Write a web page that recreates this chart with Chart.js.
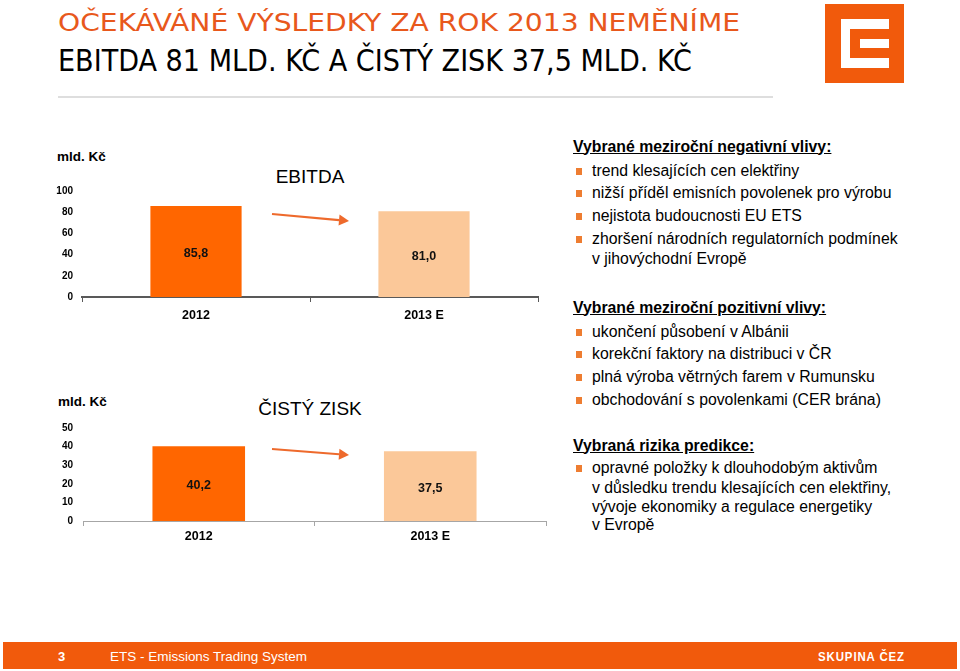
<!DOCTYPE html>
<html><head><meta charset="utf-8">
<script src="https://cdn.jsdelivr.net/npm/chart.js@4"></script>
<style>
html,body{margin:0;padding:0;background:#fff;}
body{width:960px;height:671px;position:relative;overflow:hidden;font-family:Arial,"Liberation Sans",sans-serif;color:#000;}
.a{position:absolute;line-height:1;white-space:nowrap;}
.t1{font-family:"DejaVu Sans Condensed","Liberation Sans Narrow",Arial,sans-serif;font-stretch:condensed;font-size:25px;color:#E8581C;transform-origin:0 0;}
.t2{font-family:"DejaVu Sans Condensed","Liberation Sans Narrow",Arial,sans-serif;font-stretch:condensed;font-size:30px;color:#000;transform-origin:0 0;}
.unit{font-weight:bold;font-size:13.5px;}
.ctitle{font-size:19px;transform:translateX(-50%);}
.h{font-weight:bold;font-size:15.8px;text-decoration:underline;left:573px;}
.it{font-size:15.8px;left:592px;}
.b{position:absolute;left:576px;width:6px;height:7px;background:#EE7D31;}
canvas{position:absolute;}
.foot{position:absolute;left:3px;top:642px;width:954px;height:27px;background:#F15A0C;}
.ft{color:#fff;transform-origin:0 0;}
</style></head><body>

<div class="a t1" id="title1" style="left:58px;top:10px;">OČEKÁVÁNÉ VÝSLEDKY ZA ROK 2013 NEMĚNÍME</div>
<div class="a t2" id="title2" style="left:58px;top:46px;">EBITDA 81 MLD. KČ A ČISTÝ ZISK 37,5 MLD. KČ</div>
<div style="position:absolute;left:58px;top:96px;width:715px;height:2px;background:#DEDEDE;"></div>

<div style="position:absolute;left:825px;top:4px;width:79px;height:79px;background:#F15A0C;"></div>
<div style="position:absolute;left:841px;top:19px;width:48px;height:49px;background:#fff;"></div>
<div style="position:absolute;left:850px;top:29px;width:39px;height:29px;background:#F15A0C;"></div>
<div style="position:absolute;left:860px;top:39px;width:29px;height:9px;background:#fff;"></div>

<div class="a unit" style="left:57px;top:150px;">mld. Kč</div>
<div class="a ctitle" style="left:310px;top:167px;">EBITDA</div>
<canvas id="c1" width="560" height="149" style="left:0;top:176px;"></canvas>

<div class="a unit" style="left:58px;top:395px;">mld. Kč</div>
<div class="a ctitle" style="left:310px;top:399px;">ČISTÝ ZISK</div>
<canvas id="c2" width="560" height="140" style="left:0;top:410px;"></canvas>

<div class="a h" style="top:138.5px;">Vybrané meziroční negativní vlivy:</div>
<div class="b" style="top:167.5px;"></div><div class="a it" style="top:162.5px;">trend klesajících cen elektřiny</div>
<div class="b" style="top:189.5px;"></div><div class="a it" style="top:184.5px;">nižší příděl emisních povolenek pro výrobu</div>
<div class="b" style="top:212.5px;"></div><div class="a it" style="top:207.5px;">nejistota budoucnosti EU ETS</div>
<div class="b" style="top:235.5px;"></div><div class="a it" style="top:230.5px;">zhoršení národních regulatorních podmínek</div>
<div class="a it" style="top:250.5px;">v jihovýchodní Evropě</div>

<div class="a h" style="top:299.5px;">Vybrané meziroční pozitivní vlivy:</div>
<div class="b" style="top:328.5px;"></div><div class="a it" style="top:323.5px;">ukončení působení v Albánii</div>
<div class="b" style="top:350.5px;"></div><div class="a it" style="top:345.5px;">korekční faktory na distribuci v ČR</div>
<div class="b" style="top:373.5px;"></div><div class="a it" style="top:368.5px;">plná výroba větrných farem v Rumunsku</div>
<div class="b" style="top:396.5px;"></div><div class="a it" style="top:391.5px;">obchodování s povolenkami (CER brána)</div>

<div class="a h" style="top:437.5px;">Vybraná rizika predikce:</div>
<div class="b" style="top:464.5px;"></div><div class="a it" style="top:459.5px;">opravné položky k dlouhodobým aktivům</div>
<div class="a it" style="top:479.5px;">v důsledku trendu klesajících cen elektřiny,</div>
<div class="a it" style="top:498.5px;">vývoje ekonomiky a regulace energetiky</div>
<div class="a it" style="top:516.5px;">v Evropě</div>

<div class="foot"></div>
<div class="a ft" style="left:58px;top:650px;font-weight:bold;font-size:13px;">3</div>
<div class="a ft" id="ftxt" style="left:110px;top:649.5px;font-size:13.5px;">ETS - Emissions Trading System</div>
<div class="a ft" id="fbrand" style="left:818px;top:650px;font-weight:bold;font-size:13px;letter-spacing:1px;">SKUPINA ČEZ</div>

<script>
// ---- data ----
const categories = ['2012', '2013 E'];
const ebitdaValues = [85.8, 81.0];
const netProfitValues = [40.2, 37.5];
const ebitdaTicks = [0, 20, 40, 60, 80, 100];
const netProfitTicks = [0, 10, 20, 30, 40, 50];
const barColors = ['#FF6600', '#FBC899'];

function fit(id, w) {
  const el = document.getElementById(id);
  const r = el.getBoundingClientRect().width;
  el.style.transform = 'scaleX(' + (w / r) + ')';
}
fit('title1', 682);
fit('title2', 634);
fit('ftxt', 197);
fit('fbrand', 87);

Chart.defaults.font.family = 'Arial, "Liberation Sans", sans-serif';

const labelPlugin = {
  id: 'valueLabels',
  afterDatasetsDraw(chart, args, opts) {
    const ctx = chart.ctx;
    const meta = chart.getDatasetMeta(0);
    ctx.save();
    ctx.font = 'bold 12.5px Arial, "Liberation Sans", sans-serif';
    ctx.fillStyle = '#111';
    ctx.textAlign = 'center';
    ctx.textBaseline = 'middle';
    meta.data.forEach((bar, i) => {
      const v = chart.data.datasets[0].data[i];
      ctx.fillText(v.toFixed(1).replace('.', ','), bar.x, (bar.y + bar.base) / 2 + 2);
    });
    const a = opts.arrow;
    if (a) {
      const ca = chart.chartArea;
      const x1 = ca.left + a[0], y1 = ca.top + a[1], x2 = ca.left + a[2], y2 = ca.top + a[3];
      const ang = Math.atan2(y2 - y1, x2 - x1);
      const hl = 10, hw = 5.5;
      const bx = x2 - hl * Math.cos(ang), by = y2 - hl * Math.sin(ang);
      ctx.strokeStyle = '#EE6A2C';
      ctx.fillStyle = '#EE6A2C';
      ctx.lineWidth = 2.2;
      ctx.beginPath(); ctx.moveTo(x1, y1); ctx.lineTo(bx, by); ctx.stroke();
      ctx.beginPath();
      ctx.moveTo(x2, y2);
      ctx.lineTo(bx + hw * Math.sin(ang), by - hw * Math.cos(ang));
      ctx.lineTo(bx - hw * Math.sin(ang), by + hw * Math.cos(ang));
      ctx.closePath(); ctx.fill();
    }
    ctx.restore();
  }
};

function makeChart(id, values, ticks, o) {
  return new Chart(document.getElementById(id), {
    type: 'bar',
    data: {
      labels: categories,
      datasets: [{ data: values, backgroundColor: barColors, barPercentage: 0.4, categoryPercentage: 1.0, borderWidth: 0 }]
    },
    options: {
      responsive: false, animation: false, devicePixelRatio: 1,
      layout: { padding: { top: o.top, right: o.right, left: 0, bottom: 0 } },
      plugins: { legend: { display: false }, tooltip: { enabled: false }, valueLabels: { arrow: o.arrow } },
      scales: {
        x: {
          offset: true,
          grid: { display: true, offset: true, drawOnChartArea: false, drawTicks: true, tickLength: 5, color: o.axisColor, lineWidth: 1 },
          border: { display: true, color: o.axisColor, width: o.axisWidth },
          ticks: { color: '#000', font: { weight: 'bold', size: 12.5 }, padding: o.xpad, maxRotation: 0 },
          afterFit: s => { s.height = o.xh; }
        },
        y: {
          min: 0, max: ticks[ticks.length - 1],
          grid: { display: false, drawTicks: false }, border: { display: false },
          afterBuildTicks: s => { s.ticks = ticks.map(v => ({ value: v })); },
          ticks: { color: '#000', font: { weight: 'bold', size: 10 }, padding: o.ypad },
          afterFit: s => { s.width = o.yw; }
        }
      }
    },
    plugins: [labelPlugin]
  });
}

makeChart('c1', ebitdaValues, ebitdaTicks, { top: 14, right: 22, xh: 28, yw: 82, xpad: 6, ypad: 9, axisColor: '#595959', axisWidth: 2, arrow: [190, 23, 267, 30] });
makeChart('c2', netProfitValues, netProfitTicks, { top: 18, right: 14, xh: 29, yw: 83, xpad: 3, ypad: 10, axisColor: '#A6A6A6', axisWidth: 1, arrow: [189, 21, 266, 27] });
</script>
</body></html>
